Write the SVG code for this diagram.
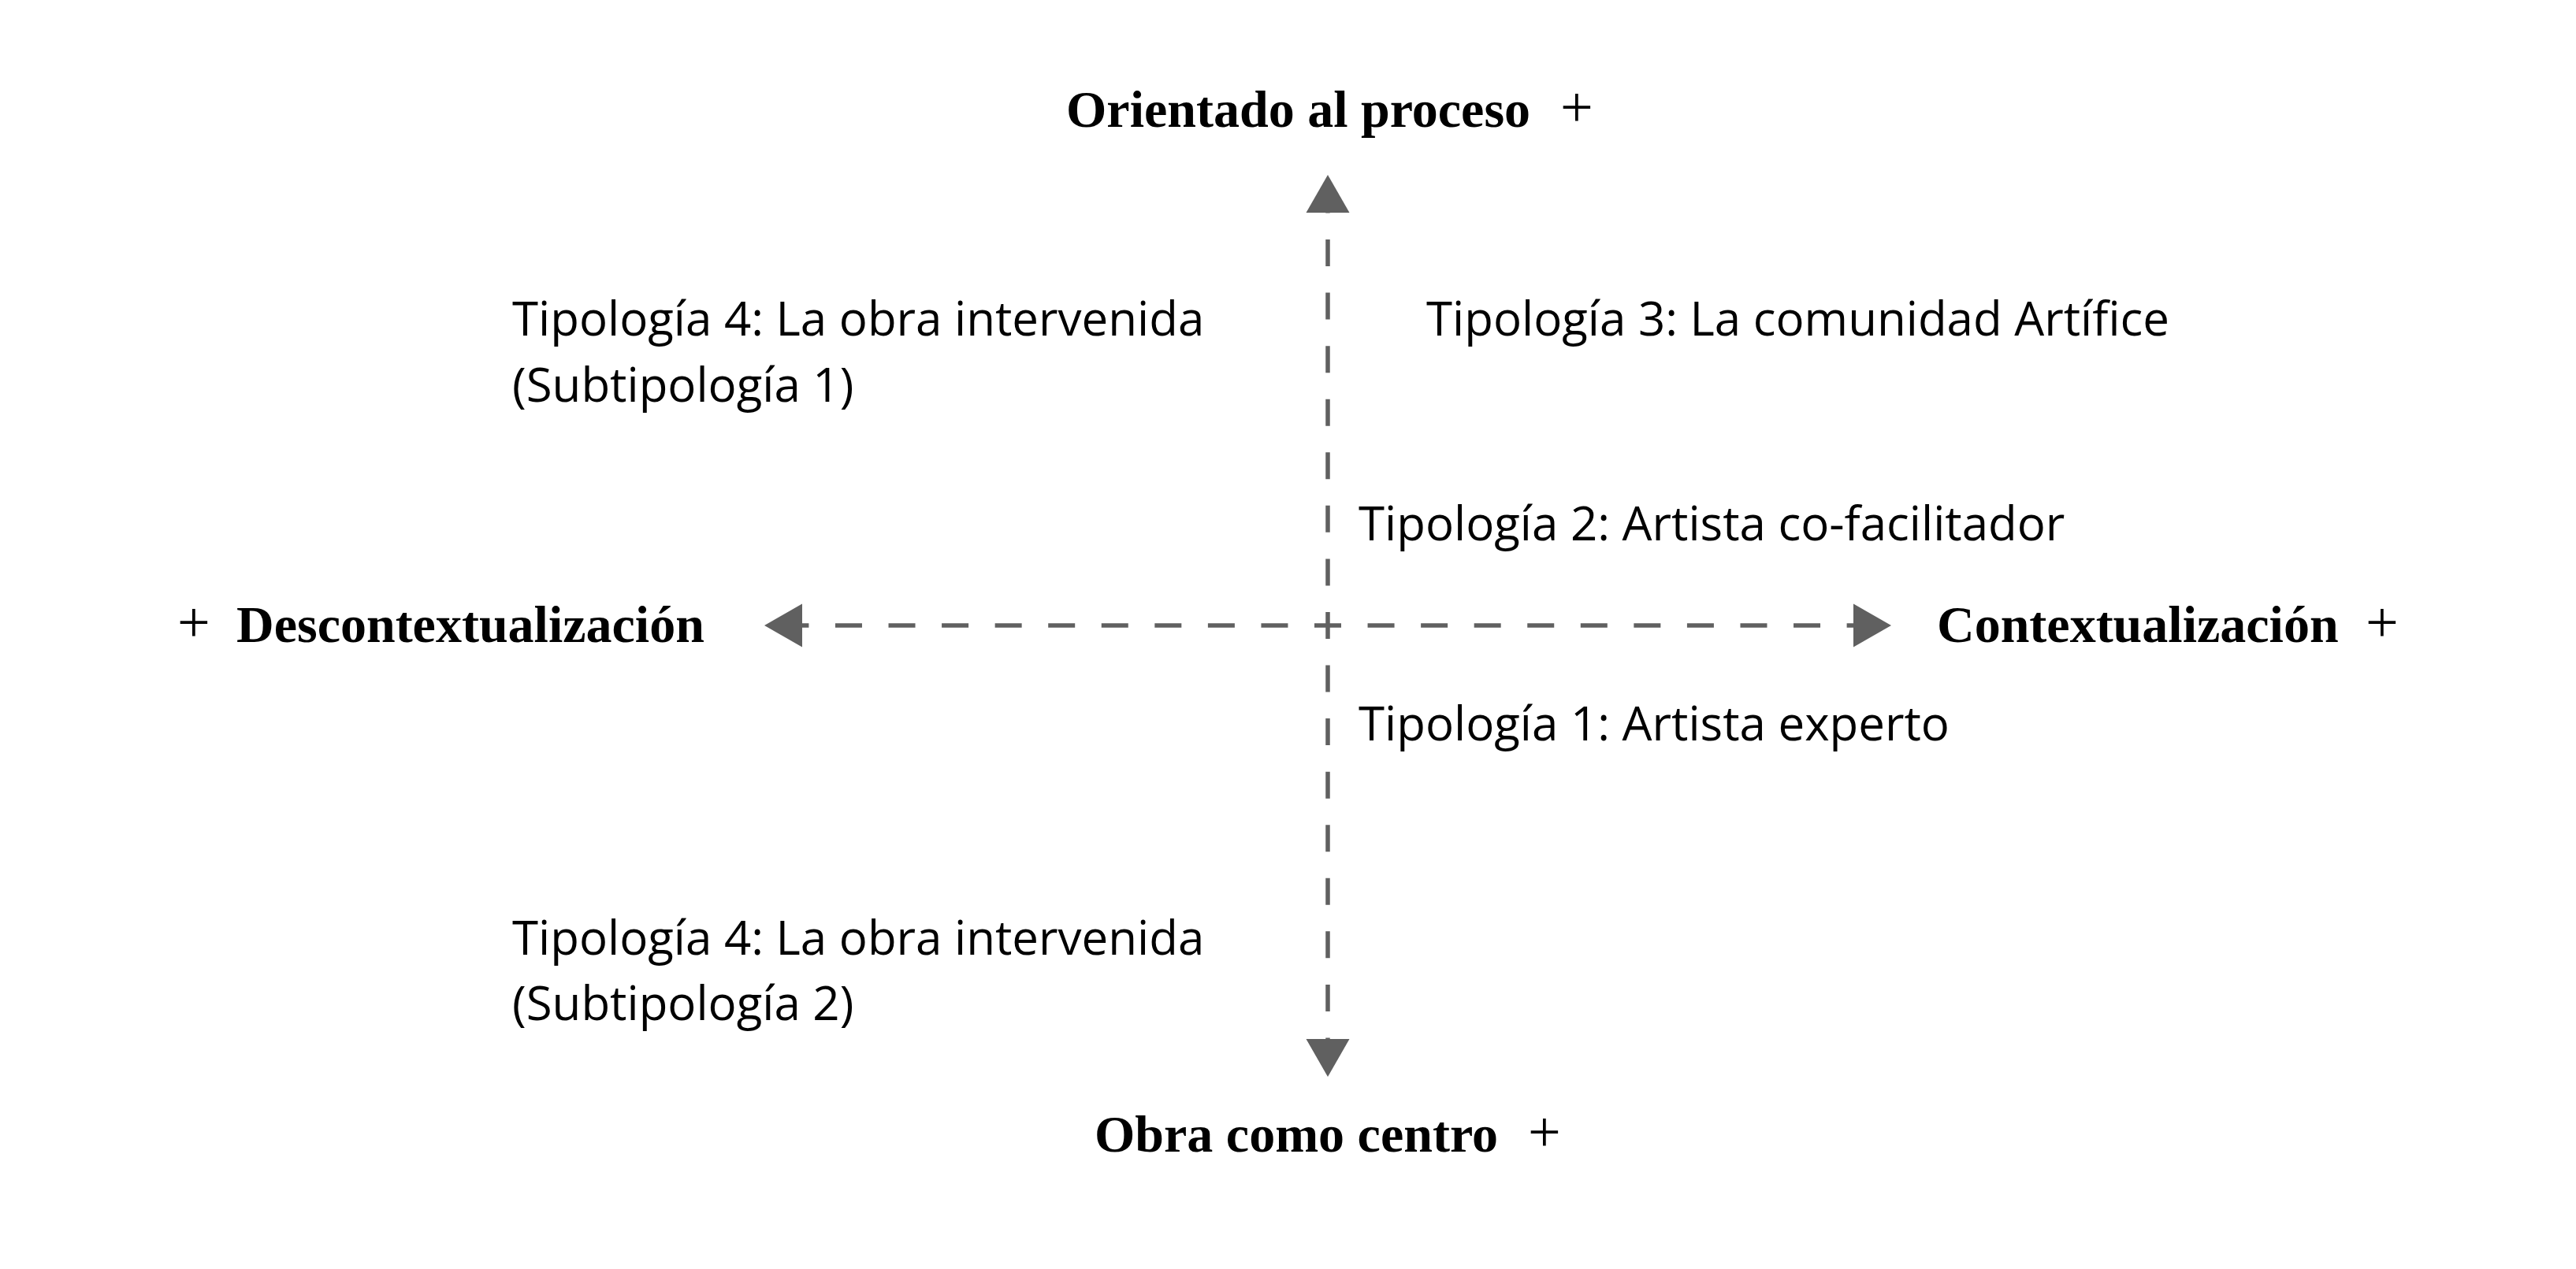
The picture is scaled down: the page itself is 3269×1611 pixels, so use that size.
<svg xmlns="http://www.w3.org/2000/svg" width="3269" height="1611" viewBox="0 0 3269 1611">
  <style>
    .axis { stroke: #606060; stroke-width: 5.5; fill: none; stroke-dasharray: 34 33.56; }
    .head { fill: #606060; stroke: none; }
    .pole { font-family: "Liberation Serif", "Times New Roman", serif; font-weight: bold; font-size: 66px; fill: #000; }
    .plus { font-family: "Liberation Serif", "Times New Roman", serif; font-weight: normal; font-size: 74px; fill: #000; }
    .typo { font-family: "Open Sans", "Noto Sans", sans-serif; font-size: 60px; fill: #000; }
  </style>
  <rect x="0" y="0" width="3269" height="1611" fill="#ffffff"/>

  <g id="connectors">
    <line class="axis" x1="992.4" y1="794" x2="2377.6" y2="794"/>
    <line class="axis" x1="1685" y1="236.5" x2="1685" y2="1351.5"/>
    <polygon class="head" points="1685,222 1712.5,270 1657.5,270"/>
    <polygon class="head" points="1685,1367 1712.5,1319 1657.5,1319"/>
    <polygon class="head" points="970,794 1018,766.5 1018,821.5"/>
    <polygon class="head" points="2400,794 2352,766.5 2352,821.5"/>
  </g>

  <g id="pole-top">
    <text class="pole" x="1353" y="161">Orientado al proceso</text>
    <text class="plus" x="1980" y="161">+</text>
  </g>
  <g id="pole-bottom">
    <text class="pole" x="1389" y="1462">Obra como centro</text>
    <text class="plus" x="1939" y="1462">+</text>
  </g>
  <g id="pole-left">
    <text class="plus" x="225" y="815">+</text>
    <text class="pole" x="300" y="815">Descontextualización</text>
  </g>
  <g id="pole-right">
    <text class="pole" x="2458" y="815">Contextualización</text>
    <text class="plus" x="3002" y="815">+</text>
  </g>

  <g id="tipologia-4-sub1">
    <text class="typo" x="650" y="426">Tipología 4: La obra intervenida</text>
    <text class="typo" x="650" y="510">(Subtipología 1)</text>
  </g>
  <g id="tipologia-3">
    <text class="typo" x="1810" y="426">Tipología 3: La comunidad Artífice</text>
  </g>
  <g id="tipologia-2">
    <text class="typo" x="1724" y="686">Tipología 2: Artista co-facilitador</text>
  </g>
  <g id="tipologia-1">
    <text class="typo" x="1724" y="940">Tipología 1: Artista experto</text>
  </g>
  <g id="tipologia-4-sub2">
    <text class="typo" x="650" y="1212">Tipología 4: La obra intervenida</text>
    <text class="typo" x="650" y="1295">(Subtipología 2)</text>
  </g>
</svg>
